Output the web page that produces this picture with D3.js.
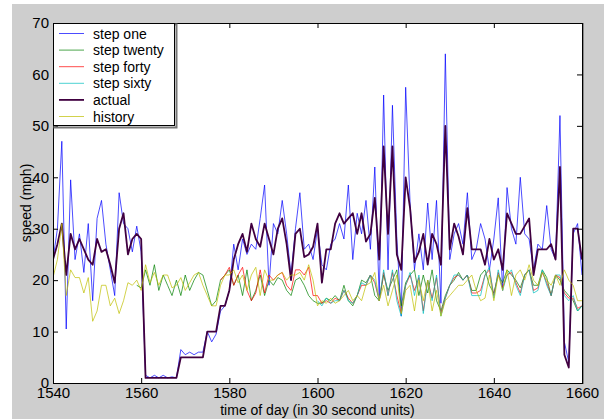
<!DOCTYPE html>
<html>
<head>
<meta charset="utf-8">
<script src="https://d3js.org/d3.v7.min.js"></script>
<style>
  body { margin: 0; background: #fff; }
  text { font-family: "Liberation Sans", Arial, sans-serif; }
</style>
</head>
<body>
<div id="chart"></div>
<script>
// time axis, one sample per 30 s unit
const times = d3.range(1540, 1661);
const xTicks = [1540, 1560, 1580, 1600, 1620, 1640, 1660];
const yTicks = [0, 10, 20, 30, 40, 50, 60, 70];
const seriesNames = ["step one", "step twenty", "step forty", "step sixty", "actual", "history"];
const seriesColors = ["#0000ff", "#008000", "#ff0000", "#00bfbf", "#400040", "#bfbf00"];

const actual = [
  24, 27, 31, 21, 29, 26, 28, 26, 24, 23,
  28, 25.5, 26, 23, 19.5, 30, 33, 25, 28, 29,
  28, 1, 1, 1, 1, 1, 1, 1, 1, 5,
  5, 5, 5, 5, 5, 10, 10, 10, 15, 15,
  18, 24, 27, 29, 25.5, 31, 28, 26.5, 31, 28,
  25, 30, 32, 27, 20, 29, 30, 24.5, 25, 26.5,
  31, 19.5, 26, 26, 31, 33, 31, 32, 33, 29,
  33, 27.5, 29, 36, 24, 46, 29, 46, 25, 22,
  40, 34, 23.5, 25.5, 29, 23, 29, 27, 23, 50,
  26, 31, 28.5, 25, 34, 26, 26, 26, 23, 28,
  24, 26, 22, 33, 31, 29, 29, 30.5, 32, 21,
  26, 26, 26, 27, 24, 42, 5.5, 3, 30, 30,
  24
];

const stepOne = [
  24, 30, 47, 10.5, 39.5, 24, 29, 21.5, 31, 16,
  32, 35.5, 27, 22, 17, 37, 31, 30, 25.5, 30.5,
  25.5, 1.5, 1, 1.5, 1, 1.5, 1, 1.2, 1, 6.5,
  5.5, 6, 5.5, 6, 6, 10, 8, 9.5, 14, 15,
  18, 27, 22, 28, 25, 27, 26, 32, 38.5, 19,
  31, 29, 35.5, 29, 21, 30, 37, 26, 27, 24,
  30, 23, 22, 27, 28, 31, 28, 38.5, 24, 33,
  29, 35.5, 26, 42, 17, 56, 22, 54, 28, 13,
  57.5, 35, 22, 29, 22, 35, 24, 35.5, 15.5, 64,
  24, 29, 31, 27, 37, 24, 26, 31, 28, 22,
  28, 36, 18, 38, 30, 27, 40, 29, 28, 22,
  27, 26, 34.5, 26, 24, 52, 8, 4, 29, 31,
  21
];

const stepTwenty = [
  null, null, null, null, null, null, null, null, null, null,
  null, null, null, null, null, null, null, null, null, 19,
  18.5, 22, 19, 23, 18, 21, 19, 17, 20, 17,
  21, 18, 20, 21.5, 21, 18, 15, 16, 20, 21,
  22, 19, 21, 17, 22, 16, 18, 21, 17, 20,
  19, 20.5, 20, 18, 17, 20, 20.5, 19, 17, 16,
  15.5, 15.5, 16.5, 16, 17, 16, 19, 16, 15, 17,
  20, 19.5, 21, 17, 16, 21, 18, 20, 22, 15,
  19.5, 21, 22, 17, 21, 17.5, 22, 16, 14, 17,
  19, 20, 21.5, 20, 21, 18, 18, 21, 22, 19,
  17.5, 21, 19.5, 22, 21, 20, 18.5, 21, 22, 19,
  19, 22, 20.5, 17, 21, 20, 18, 17, 16, 14,
  15
];

const stepForty = [
  null, null, null, null, null, null, null, null, null, null,
  null, null, null, null, null, null, null, null, null, null,
  null, null, null, null, null, null, null, null, null, null,
  null, null, null, null, null, null, null, null, 20, 21,
  22.5, 19, 21, 22.5, 18, 16, 17.5, 22, 17.5, 21,
  20, 21, 21.5, 19, 18, 22, 22, 21, 22.5, 17,
  17, 15.5, 16, 15.5, 16.5, 16, 18, 16.5, 15.5, 17,
  19, 19, 21, 19.5, 16, 21.5, 17, 21.5, 17, 13.5,
  19, 21, 18, 20.5, 14, 20, 16.5, 20.5, 13.5, 16.5,
  19, 20.5, 21, 20, 21, 17.5, 17.5, 18, 21, 22,
  17, 21.5, 18.5, 21, 21.5, 19.5, 17.5, 21, 22, 18,
  18.5, 21.5, 19.5, 17, 21, 20.5, 17.5, 16.5, 16.5, 14.5,
  15
];

const stepSixty = [
  null, null, null, null, null, null, null, null, null, null,
  null, null, null, null, null, null, null, null, null, null,
  null, null, null, null, null, null, null, null, null, null,
  null, null, null, null, null, null, null, null, null, null,
  null, null, null, null, null, null, null, null, null, null,
  null, null, null, null, null, null, null, null, null, null,
  16, 15, 16.5, 15.5, 16, 16, 18, 16, 15.5, 17,
  19.5, 19, 21, 20, 16, 22, 17, 22, 16, 13,
  19, 21.5, 17, 21, 13.5, 20, 16, 21, 13, 16.5,
  19, 21, 21, 20, 21, 17, 17, 17, 21, 22.5,
  16.5, 22, 18, 21, 22, 19, 17, 21, 22, 17.5,
  18, 22, 19, 17, 21, 21, 17, 16, 17, 14,
  15
];

const history = [
  20.5, 24, 31, 17, 22, 20.5, 20.5, 17.5, 20.5, 12,
  14, 19, 19, 15, 16.5, 13.5, 16, 19.5, 19, 20,
  18, 23, 19.5, 21.5, 19, 21, 21, 18.5, 19, 20.5,
  18, 19.5, 21, 21.5, 19, 17, 15, 15, 19, 21,
  21, 22, 19.5, 21, 18, 21, 22.5, 17, 22, 20,
  20, 21, 21.5, 20, 21, 21, 21.5, 20, 23, 20,
  15, 16, 15.5, 16.5, 15.5, 16, 17, 18, 16, 17,
  16, 19, 19.5, 21.5, 16, 19, 15, 18, 21, 13.5,
  18, 19, 14, 20, 16, 20, 14, 18, 13, 16,
  17, 18, 19, 19, 20, 21, 18, 16, 16.5, 21,
  16, 21, 18, 22, 17, 21, 22, 20, 23, 20,
  19, 21.5, 20, 19, 21, 19, 22, 20, 19, 16,
  16
];

const seriesValues = [stepOne, stepTwenty, stepForty, stepSixty, actual, history];

const W = 604, H = 419;
const plot = {left: 53, right: 582, top: 23, bottom: 383};

const svg = d3.select("#chart").append("svg")
  .attr("width", W)
  .attr("height", H);

// figure background (matlab grey)
svg.append("rect")
  .attr("x", 12).attr("y", 4)
  .attr("width", W - 12).attr("height", H - 4)
  .attr("fill", "#cecece");

svg.append("rect")
  .attr("x", plot.left).attr("y", plot.top)
  .attr("width", plot.right - plot.left).attr("height", plot.bottom - plot.top)
  .attr("fill", "#fff");

const x = d3.scaleLinear().domain([1540, 1660]).range([plot.left, plot.right]);
const y = d3.scaleLinear().domain([0, 70]).range([plot.bottom, plot.top]);

const line = d3.line()
  .defined(d => d[1] !== null)
  .x(d => x(d[0]))
  .y(d => y(d[1]));

svg.append("clipPath").attr("id", "clip")
  .append("rect")
  .attr("x", plot.left).attr("y", plot.top)
  .attr("width", plot.right - plot.left).attr("height", plot.bottom - plot.top);

const lines = svg.append("g").attr("clip-path", "url(#clip)");
seriesValues.forEach((vals, i) => {
  lines.append("path")
    .datum(times.map((t, j) => [t, vals[j]]))
    .attr("d", line)
    .attr("fill", "none")
    .attr("stroke", seriesColors[i])
    .attr("stroke-width", seriesNames[i] === "actual" ? 1.8 : 1)
    .attr("stroke-opacity", seriesNames[i] === "actual" ? 1 : 0.7)
    .attr("stroke-linejoin", "round");
});

// axes, ticks pointing inward like matlab
const tickLen = 5;
svg.append("g")
  .attr("transform", `translate(0,${plot.bottom})`)
  .call(d3.axisBottom(x).tickValues(xTicks).tickSize(-tickLen).tickPadding(4).tickFormat(d3.format("d")))
  .call(g => g.select(".domain").remove());
svg.append("g")
  .attr("transform", `translate(0,${plot.top})`)
  .call(d3.axisTop(x).tickValues(xTicks).tickSize(-tickLen).tickFormat(""))
  .call(g => g.select(".domain").remove());
svg.append("g")
  .attr("transform", `translate(${plot.left},0)`)
  .call(d3.axisLeft(y).tickValues(yTicks).tickSize(-tickLen).tickPadding(4))
  .call(g => g.select(".domain").remove());
svg.append("g")
  .attr("transform", `translate(${plot.right},0)`)
  .call(d3.axisRight(y).tickValues(yTicks).tickSize(-tickLen).tickFormat(""))
  .call(g => g.select(".domain").remove());

svg.selectAll(".tick text")
  .attr("font-size", 15)
  .attr("font-family", "Liberation Sans, Arial, sans-serif")
  .attr("fill", "#000");
svg.selectAll(".tick line").attr("stroke", "#000");

svg.append("rect")
  .attr("x", plot.left + 0.5).attr("y", plot.top + 0.5)
  .attr("width", plot.right - plot.left).attr("height", plot.bottom - plot.top)
  .attr("fill", "none")
  .attr("stroke", "#000");
svg.append("line")
  .attr("x1", plot.right + 1.5).attr("x2", plot.right + 1.5)
  .attr("y1", plot.top).attr("y2", plot.bottom + 1)
  .attr("stroke", "#888");

svg.append("text")
  .attr("x", (plot.left + plot.right) / 2)
  .attr("y", 415)
  .attr("text-anchor", "middle")
  .attr("font-size", 14)
  .text("time of day (in 30 second units)");

svg.append("text")
  .attr("transform", `translate(31,${(plot.top + plot.bottom) / 2}) rotate(-90)`)
  .attr("text-anchor", "middle")
  .attr("font-size", 14)
  .text("speed (mph)");

// legend
const leg = svg.append("g").attr("transform", `translate(${plot.left},${plot.top})`);
leg.append("rect")
  .attr("x", 1.5).attr("y", 1.5)
  .attr("width", 122).attr("height", 103)
  .attr("fill", "none").attr("stroke", "#777").attr("stroke-width", 2);
leg.append("rect")
  .attr("x", 0.5).attr("y", 0.5)
  .attr("width", 121).attr("height", 102)
  .attr("fill", "#fff").attr("stroke", "#000");
seriesNames.forEach((name, i) => {
  const yy = 10.5 + i * 16.6;
  leg.append("line")
    .attr("x1", 6).attr("x2", 31)
    .attr("y1", yy).attr("y2", yy)
    .attr("stroke", seriesColors[i])
    .attr("stroke-width", name === "actual" ? 1.8 : 1)
    .attr("stroke-opacity", name === "actual" ? 1 : 0.7);
  leg.append("text")
    .attr("x", 40).attr("y", yy + 5)
    .attr("font-size", 14)
    .text(name);
});
</script>
</body>
</html>
